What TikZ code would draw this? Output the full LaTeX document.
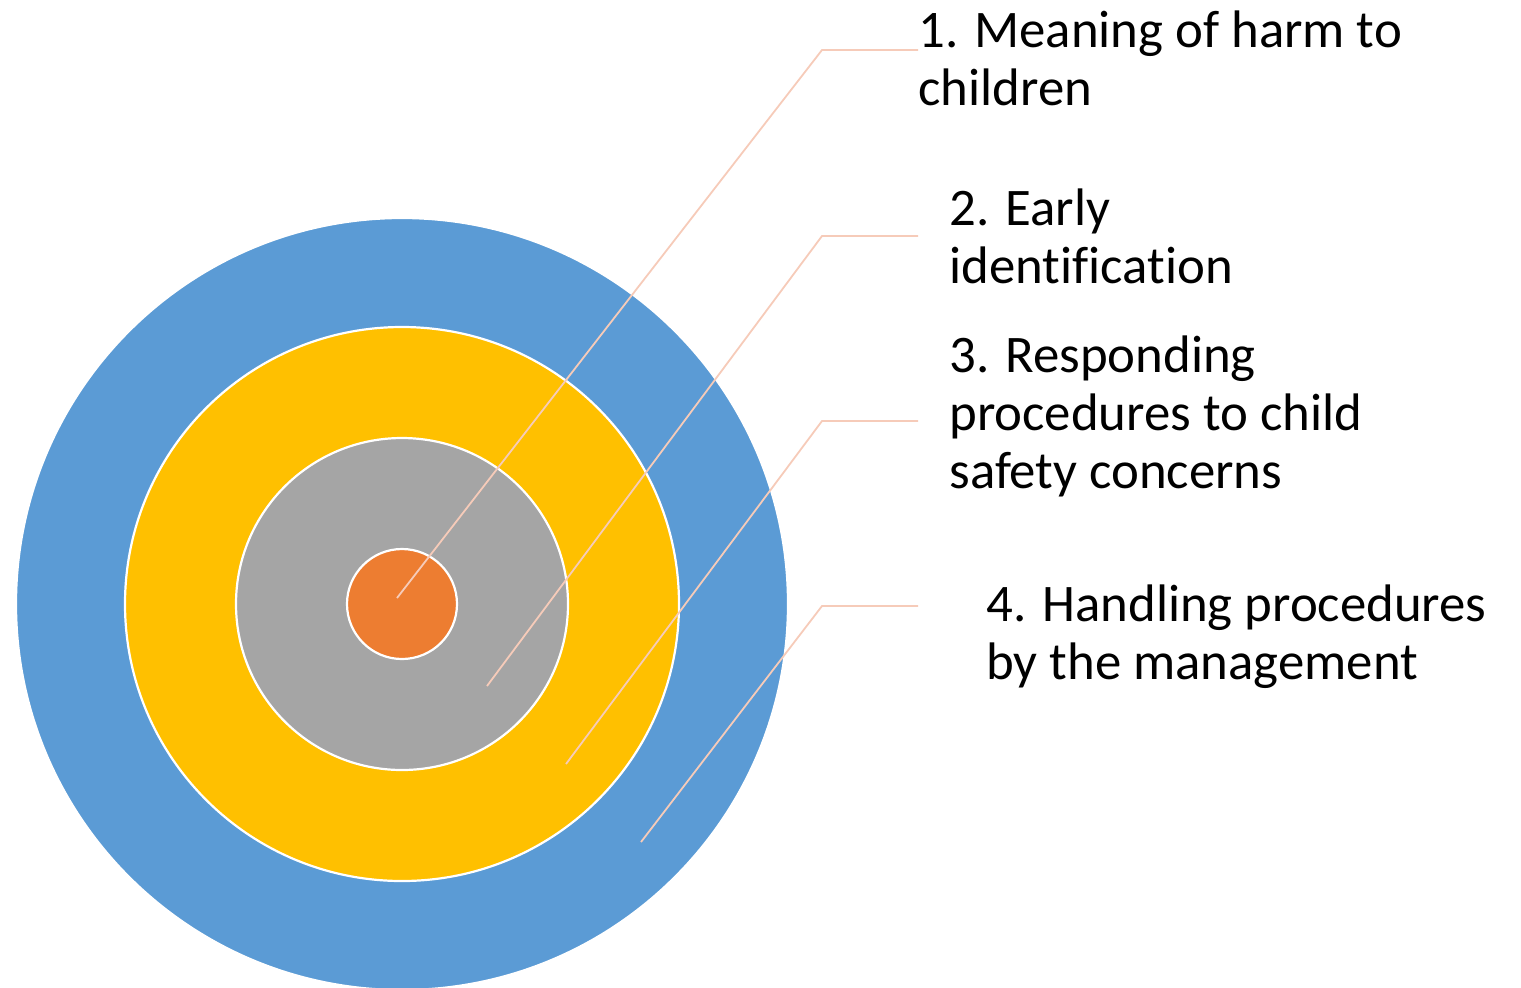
\documentclass[tikz,border=0pt]{standalone}
\usepackage{fontspec}
\setmainfont{Carlito}[Ligatures=NoCommon]
\usetikzlibrary{positioning}
\definecolor{ringblue}{HTML}{5B9BD5}
\definecolor{ringyellow}{HTML}{FFC000}
\definecolor{ringgray}{HTML}{A5A5A5}
\definecolor{ringorange}{HTML}{ED7D31}
\definecolor{leadercol}{HTML}{F6CBB9}
\begin{document}
\begin{tikzpicture}[x=0.5pt,y=-0.5pt,
                ring/.style={draw=white,line width=1.1pt,fill=#1},
                leader/.style={draw=leadercol,line width=0.9pt},
                lbl/.style={anchor=base west,align=left,inner sep=0pt,
                  font=\fontsize{26.4}{29}\selectfont}
                ]
  \useasboundingbox (0,0) rectangle (1521,987);
  \coordinate (c) at (402,604);
  % rings, outside in
  \path[ring=ringblue]   (c) circle[radius=193pt];
  \path[ring=ringyellow] (c) circle[radius=138.5pt];
  \path[ring=ringgray]   (c) circle[radius=83pt];
  \path[ring=ringorange] (c) circle[radius=27.5pt];

  % labels (base = baseline of the last line)
  \node[lbl] (t1) at (918,105) {1. Meaning of harm to\\children};
  \node[lbl] (t2) at (949,283) {2. Early\\identification};
  \node[lbl] (t3) at (949,488) {3. Responding\\procedures to child\\safety concerns};
  \node[lbl] (t4) at (986,679) {4. Handling procedures\\by the management};

  % leader lines
  \coordinate (p1) at (397,598); \coordinate (k1) at (822,50);  \coordinate (e1) at (918,50);
  \coordinate (p2) at (487,686); \coordinate (k2) at (822,236); \coordinate (e2) at (918,236);
  \coordinate (p3) at (566,764); \coordinate (k3) at (822,421); \coordinate (e3) at (918,421);
  \coordinate (p4) at (641,842); \coordinate (k4) at (822,606); \coordinate (e4) at (918,606);
  \foreach \i in {1,...,4}
    \draw[leader] (p\i) -- (k\i) -- (e\i);
\end{tikzpicture}
\end{document}
